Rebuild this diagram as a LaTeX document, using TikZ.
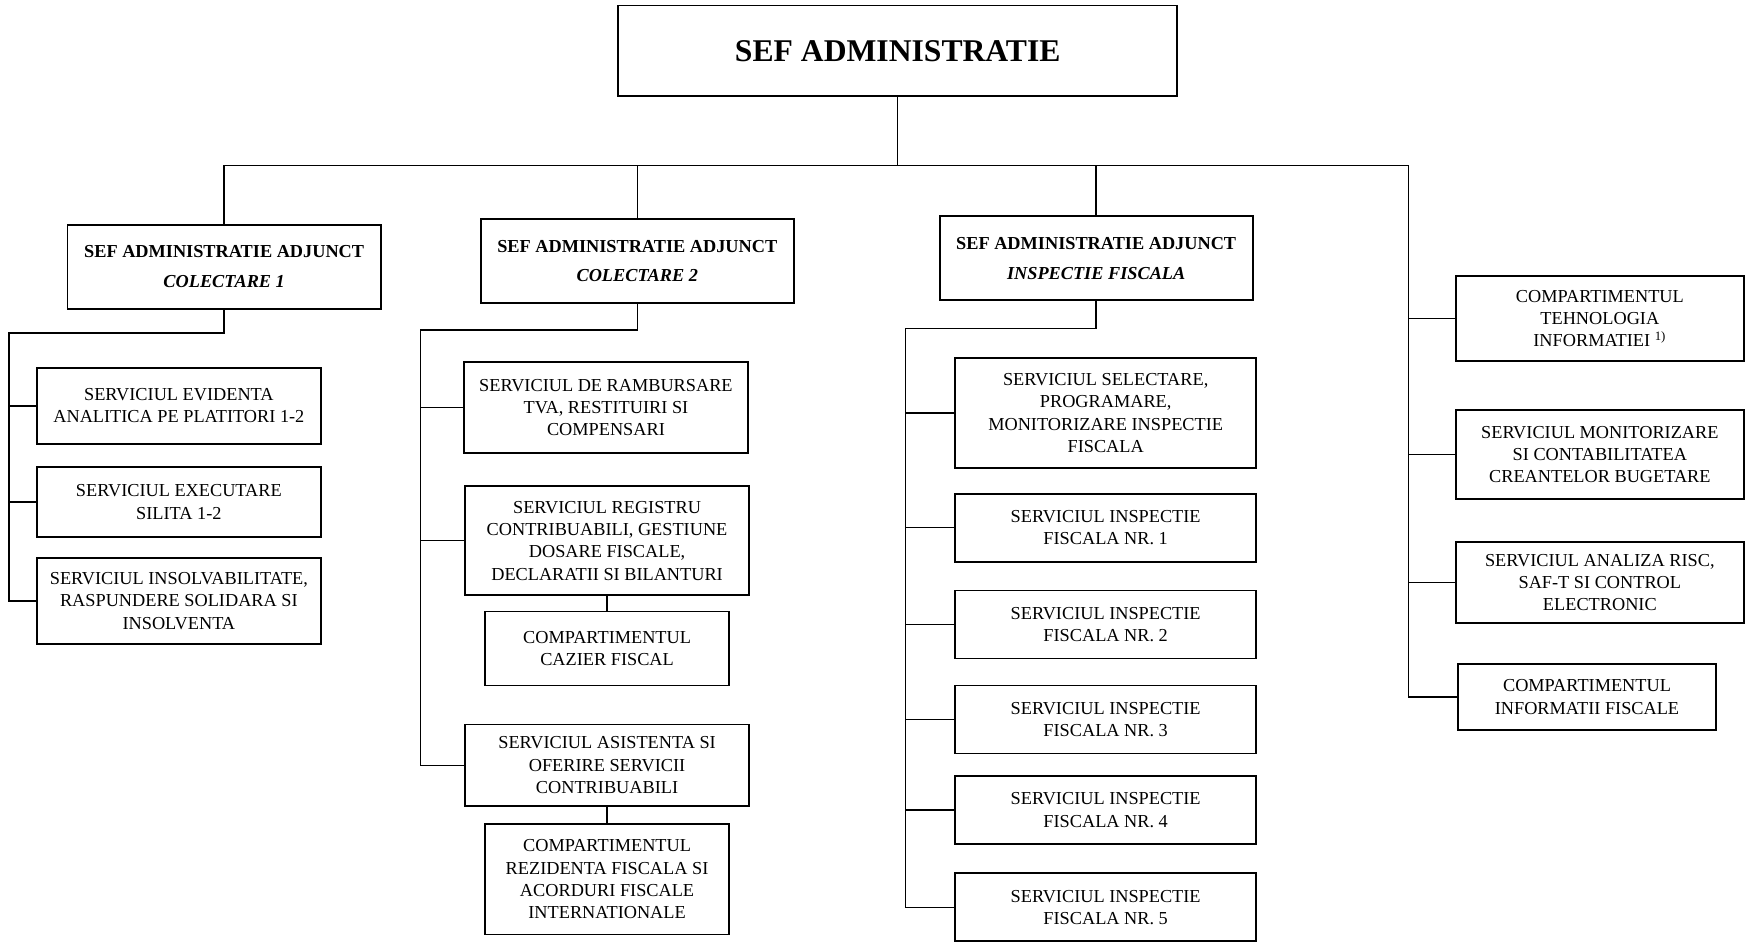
\documentclass[tikz,border=0pt]{standalone}
\usepackage{fontspec}
\setmainfont{Liberation Serif}

\begin{document}
\begin{tikzpicture}[x=0.02236cm, y=-0.02236cm,
        box/.style={rectangle, draw, line width=1pt, align=center, inner sep=1pt, font=\fontsize{10.4}{12.7}\selectfont},
        head/.style={box, minimum width=6.26cm, minimum height=1.68cm, font=\fontsize{10.4}{17}\selectfont\bfseries},
        serv/.style={box, minimum width=5.68cm},
        insp/.style={box, minimum width=6.02cm, minimum height=1.36cm},
        link/.style={line width=0.8pt}
    ]
        \useasboundingbox (0,0) rectangle (1568,845);

        % Sef administratie
        \node[box, minimum width=11.18cm, minimum height=1.81cm, font=\fontsize{18}{20}\selectfont\bfseries] (sef) at (803,45.5) {SEF ADMINISTRATIE};

        % Adjuncti
        \node[head] (adj1) at (200.5,238.5) {SEF ADMINISTRATIE ADJUNCT\\\textit{COLECTARE 1}};
        \node[head] (adj2) at (570,233.5) {SEF ADMINISTRATIE ADJUNCT\\\textit{COLECTARE 2}};
        \node[head] (adj3) at (980.5,231) {SEF ADMINISTRATIE ADJUNCT\\\textit{INSPECTIE FISCALA}};

        % Colectare 1
        \node[serv, minimum height=1.52cm] (a1) at (160,363) {SERVICIUL EVIDENTA\\ANALITICA PE PLATITORI 1-2};
        \node[serv, minimum height=1.39cm] (a2) at (160,449) {SERVICIUL EXECUTARE\\SILITA 1-2};
        \node[serv, minimum height=1.72cm] (a3) at (160,537.5) {SERVICIUL INSOLVABILITATE,\\RASPUNDERE SOLIDARA SI\\INSOLVENTA};

        % Colectare 2
        \node[serv, minimum height=1.81cm] (b1) at (542,364.5) {SERVICIUL DE RAMBURSARE\\TVA, RESTITUIRI SI\\COMPENSARI};
        \node[serv, minimum height=2.17cm] (b2) at (543,483.5) {SERVICIUL REGISTRU\\CONTRIBUABILI, GESTIUNE\\DOSARE FISCALE,\\DECLARATII SI BILANTURI};
        \node[box, minimum width=4.87cm, minimum height=1.48cm] (b3) at (543,580) {COMPARTIMENTUL\\CAZIER FISCAL};
        \node[serv, minimum height=1.63cm] (b4) at (543,684.5) {SERVICIUL ASISTENTA SI\\OFERIRE SERVICII\\CONTRIBUABILI};
        \node[box, minimum width=4.87cm, minimum height=2.21cm] (b5) at (543,786.5) {COMPARTIMENTUL\\REZIDENTA FISCALA SI\\ACORDURI FISCALE\\INTERNATIONALE};

        % Inspectie fiscala
        \node[insp, minimum height=2.21cm] (c1) at (989,369.5) {SERVICIUL SELECTARE,\\PROGRAMARE,\\MONITORIZARE INSPECTIE\\FISCALA};
        \node[insp] (c2) at (989,472) {SERVICIUL INSPECTIE\\FISCALA NR. 1};
        \node[insp] (c3) at (989,558.5) {SERVICIUL INSPECTIE\\FISCALA NR. 2};
        \node[insp] (c4) at (989,643.5) {SERVICIUL INSPECTIE\\FISCALA NR. 3};
        \node[insp] (c5) at (989,724.5) {SERVICIUL INSPECTIE\\FISCALA NR. 4};
        \node[insp] (c6) at (989,811.5) {SERVICIUL INSPECTIE\\FISCALA NR. 5};

        % Subordonate direct
        \node[box, minimum width=5.76cm, minimum height=1.70cm] (d1) at (1431,285) {COMPARTIMENTUL\\TEHNOLOGIA\\INFORMATIEI \textsuperscript{1)}};
        \node[box, minimum width=5.76cm, minimum height=1.77cm] (d2) at (1431,406.5) {SERVICIUL MONITORIZARE\\SI CONTABILITATEA\\CREANTELOR BUGETARE};
        \node[box, minimum width=5.76cm, minimum height=1.61cm] (d3) at (1431,521) {SERVICIUL ANALIZA RISC,\\SAF-T SI CONTROL\\ELECTRONIC};
        \node[box, minimum width=5.17cm, minimum height=1.32cm] (d4) at (1419.5,623.5) {COMPARTIMENTUL\\INFORMATII FISCALE};

        % Legaturi
        \coordinate (bus) at (803,148);
        \coordinate (bus4) at (1260,148);
        \draw[link] (sef.south) -- (bus);
        \draw[link] (adj1.north) |- (bus4) |- (d4.west);
        \draw[link] (adj2.north) -- (adj2.north |- bus);
        \draw[link] (adj3.north) -- (adj3.north |- bus);
        \foreach \n in {d1,d2,d3}
            \draw[link] (bus4 |- \n.west) -- (\n.west);

        \coordinate (k1) at (8,298);
        \draw[link] (adj1.south) |- (k1) |- (a3.west);
        \foreach \n in {a1,a2}
            \draw[link] (k1 |- \n.west) -- (\n.west);

        \coordinate (k2) at (376,295);
        \draw[link] (adj2.south) |- (k2) |- (b4.west);
        \foreach \n in {b1,b2}
            \draw[link] (k2 |- \n.west) -- (\n.west);
        \draw[link] (b2.south) -- (b3.north);
        \draw[link] (b4.south) -- (b5.north);

        \coordinate (k3) at (810,294);
        \draw[link] (adj3.south) |- (k3) |- (c6.west);
        \foreach \n in {c1,c2,c3,c4,c5}
            \draw[link] (k3 |- \n.west) -- (\n.west);
\end{tikzpicture}
\end{document}
